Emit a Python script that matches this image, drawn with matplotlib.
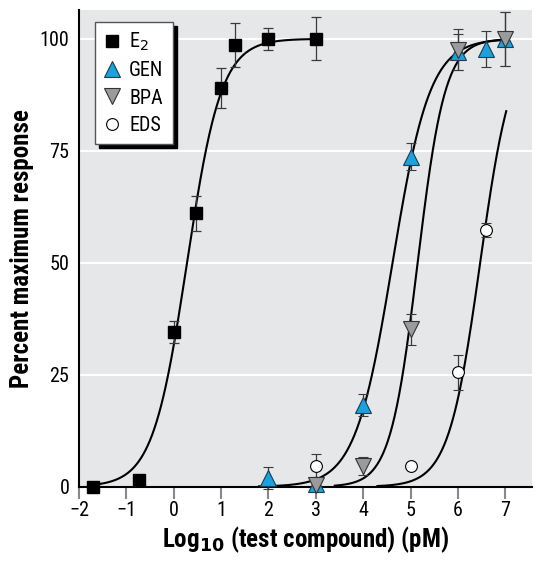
import numpy as np
import matplotlib.pyplot as plt

plt.rcParams['font.family'] = ['Roboto Condensed', 'Liberation Sans', 'DejaVu Sans']

# datos
e2_x = [-1.7, -0.73, 0.0, 0.48, 1.0, 1.3, 2.0, 3.0]
e2_y = [0, 1.5, 34.5, 61, 89, 98.7, 100, 100]
e2_err = [0, 0, 2.5, 3.8, 4.4, 4.9, 2.5, 4.8]

gen_x = [2.0, 3.0, 4.0, 5.0, 6.0, 6.6, 7.0]
gen_y = [2.0, 0.5, 18.2, 73.7, 97.1, 97.8, 99.9]
gen_err = [2.5, 0.5, 2.5, 3.0, 4.0, 4.0, 6.0]

bpa_x = [3.0, 4.0, 5.0, 6.0, 7.0]
bpa_y = [0.3, 4.7, 35.1, 97.6, 100]
bpa_err = [1.0, 2.0, 3.5, 4.5, 6.0]

eds_x = [3.0, 5.0, 6.0, 6.6]
eds_y = [4.7, 4.7, 25.5, 57.3]
eds_err = [2.5, 0, 4.0, 1.5]

# parámetros de las curvas ajustadas (EC50, pendiente, rango)
fits = {
    'E2': (0.28, 1.2, -1.7, 3.0),
    'GEN': (4.62, 1.1, 1.8, 7.0),
    'BPA': (5.15, 1.5, 3.4, 7.0),
    'EDS': (6.47, 1.3, 4.3, 7.02),
}

fig = plt.figure(figsize=(5.41, 5.63), dpi=100)
ax = fig.add_axes([0.146, 0.1355, 0.837, 0.8465])
ax.set_facecolor('#e6e7e8')

for y in [25, 50, 75, 100]:
    ax.axhline(y, color='white', lw=1.5, zorder=1)

for name, (ec50, h, x0, x1) in fits.items():
    xs = np.linspace(x0, x1, 300)
    ax.plot(xs, 100 / (1 + 10 ** ((ec50 - xs) * h)), color='black', lw=1.5, zorder=2)

eb = dict(ecolor='#3a3a3a', elinewidth=0.9, capsize=3.7, capthick=0.9, ls='none', zorder=3, clip_on=False)
ax.errorbar(eds_x, eds_y, yerr=eds_err, marker='o', ms=8.5, mfc='white', mec='black', mew=0.8, label='EDS', **eb)
ax.errorbar(gen_x, gen_y, yerr=gen_err, marker='^', ms=11, mfc='#1ba1db', mec='#1d3c52', mew=0.8, label='GEN', **eb)
ax.errorbar(bpa_x, bpa_y, yerr=bpa_err, marker='v', ms=11, mfc='#9a9b9d', mec='#333333', mew=0.8, label='BPA', **eb)
ax.errorbar(e2_x, e2_y, yerr=e2_err, marker='s', ms=9, mfc='black', mec='black', label='E$_2$', **eb)

ax.set_xlim(-2, 7.56)
ax.set_ylim(0, 106.4)
ax.set_xticks(range(-2, 8))
ax.set_xticklabels(['\u22122', '\u22121', '0', '1', '2', '3', '4', '5', '6', '7'])
ax.set_yticks([0, 25, 50, 75, 100])
ax.tick_params(axis='x', direction='out', length=8.5, width=1.5, color='#888888', labelsize=14.5, pad=2)
ax.tick_params(axis='y', length=0, labelsize=14.5, pad=7)
for s in ['top', 'right']:
    ax.spines[s].set_visible(False)
for s in ['left', 'bottom']:
    ax.spines[s].set_linewidth(1.5)
    ax.spines[s].set_zorder(2.5)

ax.set_xlabel('Log$_{\\mathbf{10}}$ (test compound) (pM)', fontsize=18, fontweight='bold', labelpad=3)
ax.set_ylabel('Percent maximum response', fontsize=18, fontweight='bold', labelpad=4)

handles, labels = ax.get_legend_handles_labels()
order = [3, 1, 2, 0]
handles = [h[0] for h in handles]
leg = ax.legend([handles[i] for i in order], [labels[i] for i in order], loc='upper left',
                bbox_to_anchor=(0.035, 0.975), fontsize=14.5, frameon=True, fancybox=False,
                edgecolor='#555555', framealpha=1, handlelength=0.8, handletextpad=0.45,
                borderpad=0.45, labelspacing=0.4, borderaxespad=0,
                shadow={'color': 'black', 'alpha': 1, 'ox': 3, 'oy': -3})
leg.get_frame().set_linewidth(1)

fig.savefig('out.png', dpi=100)
